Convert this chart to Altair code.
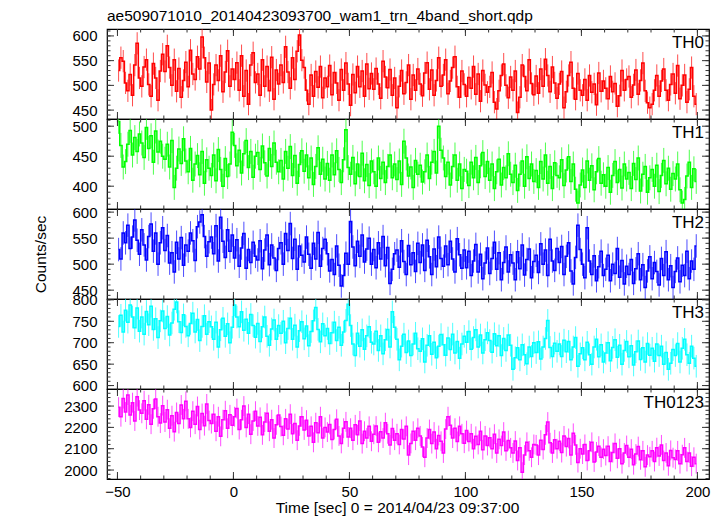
import altair as alt
import pandas as pd

TITLE = "ae509071010_20140423093700_wam1_trn_4band_short.qdp"
XTITLE = "Time [sec] 0 = 2014/04/23 09:37:00"
YTITLE = "Counts/sec"
NAMES = ["TH0", "TH1", "TH2", "TH3", "TH0123"]
COLORS = ["#ff0000", "#00ff00", "#0000ff", "#00ffff", "#ff00ff"]

# 1-s bins, centres from -49.5 s
TIME = [-49.5 + i for i in range(250)]

TH0 = [
    530, 556, 549, 505, 489, 522, 480, 541, 585, 515,
    498, 537, 552, 502, 478, 544, 515, 470, 529, 563,
    528, 580, 536, 500, 552, 488, 534, 476, 510, 547,
    497, 571, 523, 512, 558, 533, 598, 556, 507, 545,
    450, 502, 541, 510, 560, 487, 527, 570, 498, 533,
    512, 546, 490, 560, 478, 530, 462, 541, 566, 506,
    523, 480, 552, 498, 538, 489, 557, 472, 531, 503,
    541, 506, 578, 527, 494, 556, 512, 569, 602, 551,
    536, 490, 462, 521, 478, 528, 496, 538, 475, 515,
    497, 540, 481, 526, 505, 470, 532, 490, 545, 503,
    460, 522, 485, 538, 497, 529, 478, 543, 493, 524,
    492, 534, 503, 474, 549, 517, 495, 532, 480, 515,
    455, 498, 530, 483, 506, 541, 472, 521, 490, 533,
    503, 479, 525, 546, 492, 531, 480, 510, 556, 498,
    521, 552, 483, 509, 536, 558, 497, 476, 529, 502,
    478, 516, 494, 538, 482, 523, 468, 530, 501, 486,
    497, 526, 466, 452, 489, 520, 543, 500, 475, 517,
    490, 529, 445, 476, 541, 518, 489, 552, 504, 481,
    519, 484, 533, 498, 553, 520, 487, 537, 505, 474,
    503, 528, 455, 487, 520, 547, 494, 472, 524, 490,
    480, 512, 470, 520, 486, 503, 461, 525, 488, 509,
    494, 473, 518, 487, 504, 458, 479, 530, 490, 512,
    518, 476, 501, 531, 482, 510, 545, 489, 465, 455,
    462, 490, 520, 478, 509, 533, 490, 470, 502, 523,
    484, 540, 473, 500, 521, 466, 492, 536, 478, 462,
]
TH1 = [
    508, 468, 432, 441, 470, 493, 452, 481, 458, 487,
    472, 448, 498, 463, 484, 440, 492, 457, 475, 450,
    445, 470, 432, 476, 398, 430, 462, 438, 479, 442,
    424, 463, 410, 437, 451, 419, 458, 405, 444, 430,
    418, 452, 409, 461, 428, 400, 446, 416, 437, 490,
    468, 434, 460, 422, 454, 476, 431, 458, 415, 450,
    456, 428, 467, 439, 417, 463, 433, 472, 440, 424,
    443, 412, 458, 430, 466, 418, 451, 405, 436, 459,
    425, 452, 414, 447, 403, 433, 464, 420, 445, 412,
    438, 410, 452, 419, 459, 428, 406, 444, 494, 431,
    420, 448, 404, 437, 416, 455, 409, 436, 401, 442,
    424, 400, 447, 413, 440, 406, 433, 452, 414, 437,
    411, 442, 403, 475, 447, 417, 432, 398, 443, 420,
    435, 407, 424, 452, 413, 440, 458, 422, 500, 460,
    447, 416, 440, 402, 433, 452, 410, 437, 396, 428,
    425, 401, 440, 414, 448, 406, 434, 456, 416, 441,
    410, 437, 396, 424, 445, 402, 431, 414, 454, 420,
    406, 435, 393, 420, 442, 400, 449, 413, 437, 408,
    426, 398, 441, 412, 452, 405, 433, 396, 439, 418,
    414, 444, 401, 427, 449, 408, 437, 395, 372, 402,
    427, 398, 442, 410, 434, 394, 424, 446, 405, 419,
    400, 431, 390, 418, 441, 406, 428, 397, 437, 412,
    423, 396, 438, 411, 447, 392, 420, 433, 390, 414,
    428, 400, 435, 391, 418, 443, 404, 430, 395, 421,
    412, 437, 394, 372, 378, 417, 440, 398, 429, 408,
]
TH2 = [
    528, 510, 560, 541, 575, 530, 552, 585, 546, 519,
    566, 537, 508, 553, 577, 525, 560, 500, 541, 570,
    526, 555, 502, 522, 485, 542, 510, 551, 498, 537,
    525, 560, 545, 507, 572, 581, 595, 553, 515, 543,
    552, 520, 574, 506, 590, 544, 513, 566, 525, 556,
    512, 547, 496, 531, 559, 492, 528, 503, 542, 515,
    508, 545, 491, 527, 556, 499, 537, 512, 488, 530,
    541, 500, 559, 526, 578, 511, 548, 490, 535, 517,
    504, 552, 519, 492, 540, 510, 561, 496, 530, 548,
    520, 487, 509, 480, 535, 498, 458, 478, 521, 500,
    582, 533, 497, 544, 515, 556, 504, 529, 550, 500,
    528, 493, 541, 510, 553, 497, 532, 463, 490, 520,
    527, 494, 545, 505, 480, 536, 499, 522, 486, 540,
    503, 537, 488, 546, 514, 480, 529, 495, 552, 511,
    496, 535, 499, 544, 510, 485, 549, 518, 492, 527,
    493, 525, 478, 506, 538, 485, 519, 472, 502, 531,
    482, 511, 542, 490, 522, 470, 503, 533, 485, 518,
    502, 470, 524, 491, 537, 479, 509, 529, 474, 505,
    517, 484, 539, 500, 527, 478, 548, 506, 488, 530,
    503, 534, 480, 515, 541, 487, 462, 513, 575, 528,
    500, 474, 570, 506, 480, 516, 468, 495, 525, 478,
    490, 517, 468, 500, 482, 530, 475, 507, 462, 496,
    480, 509, 463, 491, 520, 470, 499, 455, 487, 514,
    472, 503, 486, 460, 511, 478, 524, 470, 497, 455,
    486, 512, 466, 498, 478, 525, 472, 506, 490, 535,
]
TH3 = [
    738, 764, 725, 776, 748, 788, 760, 735, 781, 727,
    760, 720, 773, 742, 785, 731, 756, 712, 751, 774,
    733, 761, 718, 746, 778, 795, 749, 724, 765, 738,
    716, 745, 769, 725, 754, 705, 738, 763, 720, 749,
    737, 708, 748, 690, 730, 757, 715, 744, 700, 736,
    788, 760, 737, 772, 729, 755, 722, 766, 740, 713,
    745, 703, 737, 760, 715, 694, 732, 753, 708, 740,
    722, 750, 700, 733, 757, 708, 741, 690, 728, 749,
    709, 739, 693, 726, 751, 782, 731, 702, 744, 716,
    733, 698, 723, 748, 705, 736, 694, 725, 752, 790,
    740, 697, 670, 722, 692, 730, 685, 716, 737, 701,
    697, 727, 682, 716, 674, 707, 731, 690, 772, 736,
    708, 660, 692, 720, 677, 704, 670, 697, 722, 686,
    680, 709, 655, 694, 716, 673, 701, 665, 692, 719,
    695, 671, 711, 684, 720, 676, 703, 664, 697, 715,
    701, 726, 685, 712, 730, 690, 718, 676, 707, 723,
    705, 678, 721, 693, 716, 670, 710, 682, 718, 694,
    638, 665, 688, 660, 695, 672, 651, 690, 668, 700,
    677, 702, 662, 690, 710, 752, 689, 668, 699, 680,
    697, 668, 706, 679, 703, 660, 690, 712, 645, 674,
    688, 660, 701, 672, 650, 690, 708, 667, 695, 655,
    676, 700, 658, 689, 707, 666, 694, 650, 682, 703,
    667, 693, 648, 679, 704, 661, 688, 655, 698, 671,
    687, 657, 697, 670, 692, 650, 677, 638, 652, 684,
    670, 698, 655, 687, 708, 672, 652, 692, 664, 645,
]
TH0123 = [
    2295, 2250, 2335, 2272, 2352, 2258, 2316, 2230, 2344, 2281,
    2266, 2325, 2238, 2306, 2215, 2287, 2333, 2250, 2220, 2302,
    2225, 2283, 2196, 2255, 2180, 2270, 2218, 2305, 2240, 2322,
    2240, 2200, 2276, 2215, 2298, 2190, 2265, 2208, 2310, 2232,
    2218, 2262, 2182, 2250, 2158, 2236, 2278, 2196, 2259, 2210,
    2250, 2288, 2190, 2236, 2300, 2200, 2262, 2168, 2230, 2276,
    2207, 2247, 2165, 2225, 2266, 2182, 2236, 2150, 2212, 2258,
    2204, 2163, 2240, 2192, 2262, 2170, 2218, 2140, 2207, 2250,
    2188, 2234, 2160, 2205, 2130, 2222, 2175, 2250, 2150, 2200,
    2178, 2214, 2143, 2190, 2238, 2160, 2125, 2196, 2226, 2155,
    2196, 2140, 2212, 2165, 2230, 2124, 2182, 2150, 2205, 2135,
    2168, 2206, 2130, 2180, 2150, 2222, 2170, 2118, 2195, 2140,
    2170, 2120, 2190, 2145, 2205, 2070, 2125, 2182, 2140, 2196,
    2160, 2108, 2060, 2150, 2190, 2124, 2178, 2100, 2162, 2135,
    2080, 2192, 2250, 2210, 2150, 2196, 2134, 2205, 2170, 2126,
    2185, 2134, 2170, 2100, 2158, 2120, 2182, 2095, 2160, 2115,
    2152, 2100, 2168, 2080, 2144, 2115, 2178, 2090, 2138, 2104,
    2080, 2136, 2045, 2105, 1990, 2070, 2130, 2090, 2060, 2120,
    2118, 2070, 2140, 2096, 2165, 2225, 2128, 2080, 2142, 2100,
    2135, 2082, 2160, 2110, 2148, 2070, 2172, 2118, 2035, 2100,
    2075, 2120, 2045, 2090, 2130, 2038, 2085, 2112, 2060, 2098,
    2068, 2112, 2040, 2082, 2125, 2055, 2100, 2030, 2080, 2115,
    2060, 2098, 2025, 2075, 2110, 2048, 2090, 2015, 2070, 2062,
    2090, 2040, 2105, 2066, 2118, 2045, 2080, 2020, 2092, 2058,
    2050, 2090, 2030, 2072, 2104, 2040, 2080, 2018, 2060, 2030,
]
SERIES = [TH0, TH1, TH2, TH3, TH0123]
ERRORS = [22.5, 20.8, 22.6, 26.4, 46.6]

X_DOMAIN = [-54.5, 205]
X_MAJOR = [-50, 0, 50, 100, 150, 200]
X_MINOR_STEP = 10
Y_DOMAINS = [[432, 614], [362, 512], [433, 606], [592, 802], [1958, 2380]]
Y_MAJOR = [[450, 500, 550, 600], [400, 450, 500], [450, 500, 550, 600],
           [600, 650, 700, 750, 800], [2000, 2100, 2200, 2300]]
Y_MINOR_STEP = [10, 10, 10, 10, 20]

W, H = 602, 90
FONT = "Liberation Sans"
TICK_COLOR = "#333333"


def frange(lo, hi, step):
    out = []
    v = (int(lo // step) + 1) * step
    while v < hi:
        out.append(v)
        v += step
    return out


def panel(i):
    xs = alt.Scale(domain=X_DOMAIN, nice=False, zero=False)
    ys = alt.Scale(domain=Y_DOMAINS[i], nice=False, zero=False)
    last = i == 4
    df = pd.DataFrame({"t": TIME, "v": SERIES[i]})
    df["lo"] = df["v"] - ERRORS[i]
    df["hi"] = df["v"] + ERRORS[i]

    if last:
        xax = alt.Axis(values=X_MAJOR, format="d", ticks=False, domain=False, grid=False,
                       labelFontSize=15, labelPadding=5, labelFlush=False, labelOverlap=False,
                       title=XTITLE, titleFontSize=15.5, titleFontWeight="normal",
                       titlePadding=1, titleX=W / 2 - 11,
                       labelColor="#000", titleColor="#000")
    else:
        xax = None
    yax = alt.Axis(values=Y_MAJOR[i], format="d", ticks=False, domain=False, grid=False,
                   labelFontSize=15, labelPadding=10, labelFlush=False, labelOverlap=False,
                   labelColor="#000",
                   title=(YTITLE if i == 2 else ""), titleFontSize=15.5,
                   titleFontWeight="normal", titlePadding=23, titleColor="#000")

    def X(field):
        return alt.X(field, scale=xs, axis=xax)

    def Y(field):
        return alt.Y(field, scale=ys, axis=yax)

    base = alt.Chart(df)
    errs = base.mark_rule(color=COLORS[i], strokeWidth=1, opacity=0.7, clip=True).encode(
        x=X("t:Q"), y=Y("lo:Q"), y2="hi:Q",
    )
    line = base.mark_line(color=COLORS[i], strokeWidth=1.5, interpolate="step", clip=True).encode(
        x=X("t:Q"), y=Y("v:Q"),
    )

    layers = [errs, line]
    ymaj = pd.DataFrame({"y": Y_MAJOR[i]})
    ymin = pd.DataFrame({"y": frange(Y_DOMAINS[i][0], Y_DOMAINS[i][1], Y_MINOR_STEP[i])})
    xmaj = pd.DataFrame({"x": X_MAJOR})
    xmin = pd.DataFrame({"x": frange(X_DOMAIN[0], X_DOMAIN[1], X_MINOR_STEP)})
    for d, ln in ((ymaj, 7), (ymin, 3.5)):
        for x0, x1 in ((0, ln), (W, W - ln)):
            layers.append(alt.Chart(d).mark_rule(color=TICK_COLOR, strokeWidth=1).encode(
                y=Y("y:Q"), x=alt.value(x0), x2=alt.value(x1)))
    for d, ln in ((xmaj, 7), (xmin, 3.5)):
        for y0, y1 in ((0, ln), (H, H - ln)):
            layers.append(alt.Chart(d).mark_rule(color=TICK_COLOR, strokeWidth=1).encode(
                x=X("x:Q"), y=alt.value(y0), y2=alt.value(y1)))
    lab = alt.Chart(pd.DataFrame({"name": [NAMES[i]]})).mark_text(
        align="right", baseline="middle", fontSize=17, font=FONT, color="#000"
    ).encode(text="name:N", x=alt.value(W - 5), y=alt.value(14))
    layers.append(lab)

    props = dict(width=W, height=H)
    if i == 0:
        props["title"] = alt.Title(TITLE, anchor="start", frame="group", fontSize=15.5,
                                   fontWeight="normal", font=FONT, offset=4, color="#000")
    return alt.layer(*layers).properties(**props)


chart = alt.vconcat(*[panel(i) for i in range(5)], spacing=0, bounds="flush").properties(
    padding={"left": 25, "top": 0, "right": 5, "bottom": 0}
).configure(font=FONT).configure_view(stroke="#000", strokeWidth=1.2)

chart.save("out.html", embed_options={"renderer": "svg", "actions": False})
